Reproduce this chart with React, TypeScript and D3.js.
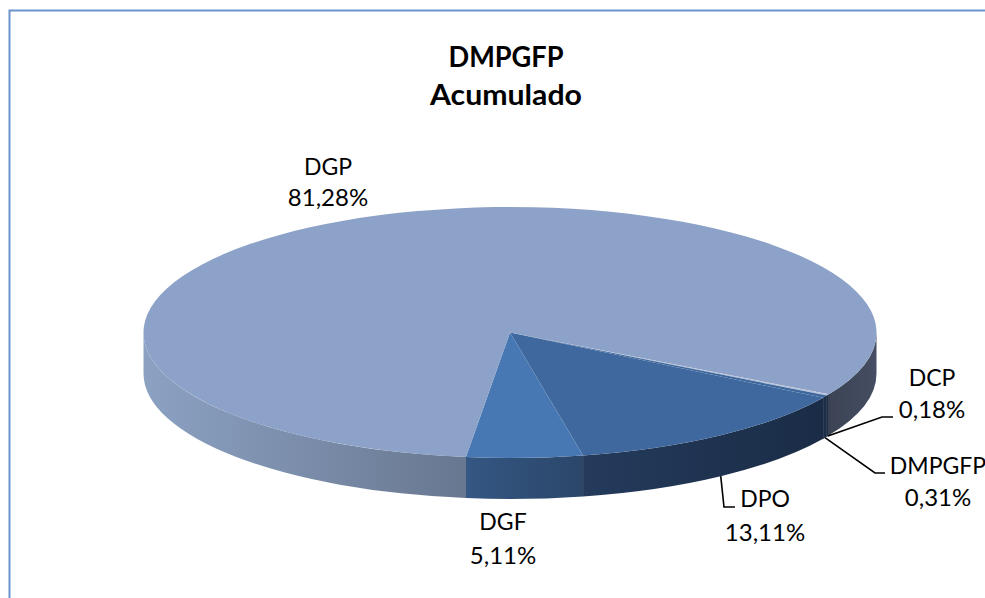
import React from 'react';
import * as d3 from 'd3';

const categories = ['DPO', 'DGF', 'DGP', 'DCP', 'DMPGFP'];
const values = [13.11, 5.11, 81.28, 0.18, 0.31];
const valueLabels = ['13,11%', '5,11%', '81,28%', '0,18%', '0,31%'];
const titleLines = ['DMPGFP', 'Acumulado'];
const titleWidths = [115, 152];

const topColors = ['#3f699e', '#4878b3', '#8da2c8', '#b8c2d8', '#3f699e'];
// left/right colours of the side wall for each slice
const wallColors = [
  ['#243b5c', '#1a2c46'],
  ['#345783', '#2b4669'],
  ['#8ca2c3', '#687790'],
  ['#1c2e48', '#2b3346'],
  ['#1a2c46', '#1c2e48'],
];
const rightWallColors = ['#3b4354', '#454e62'];

// where each label sits: x, first baseline, second baseline
const labelPos = [
  [765, 507, 541],
  [503, 530, 564],
  [328, 175, 206],
  [932, 386, 418],
  [938, 474, 506],
];
// leader elbows after the rim point
const leaders: Record<string, number[][]> = {
  DPO: [[724, 507], [735, 507]],
  DCP: [[882, 417], [893, 417]],
  DMPGFP: [[875, 473], [885, 473]],
};

const cx = 510;
const cy = 332.5;
const rx = 366.5;
const ry = 125.5;
const depth = 41;
const yScale = ry / rx;
const font = 'Lato, Carlito, sans-serif';
const rad = Math.PI / 180;

const slices = d3
  .pie<number>()
  .sort(null)
  .startAngle(121.3 * rad)
  .endAngle((121.3 + 360) * rad)(values);

const topArc = d3.arc<d3.PieArcDatum<number>>().innerRadius(0).outerRadius(rx);

// side wall between two angles, drawn in the unsquashed circle space
function wallPath(a0: number, a1: number) {
  const p = d3.path();
  const d = depth / yScale;
  p.arc(0, 0, rx, a0 - Math.PI / 2, a1 - Math.PI / 2);
  p.arc(0, d, rx, a1 - Math.PI / 2, a0 - Math.PI / 2, true);
  p.closePath();
  return p.toString();
}

// the wall only shows on the front half, angles 90 to 270 degrees
function frontParts(a0: number, a1: number) {
  const parts: [number, number][] = [];
  for (const turn of [0, 2 * Math.PI]) {
    const lo = Math.max(a0, Math.PI / 2 + turn);
    const hi = Math.min(a1, (3 * Math.PI) / 2 + turn);
    if (hi > lo) parts.push([lo, hi]);
  }
  return parts;
}

function rimPoint(a: number): [number, number] {
  return [cx + rx * Math.sin(a), cy - ry * Math.cos(a) + depth];
}

export default function App() {
  return (
    <svg
      width={985}
      height={598}
      style={{ position: 'absolute', left: 0, top: 0, display: 'block', background: '#fff' }}
    >
      <defs>
        {slices.map((s, i) =>
          frontParts(s.startAngle, s.endAngle).map((_, j) => {
            // the big slice wraps round, its second piece is the dark one on the right
            const stops = j === 1 ? rightWallColors : wallColors[i];
            return (
              <linearGradient key={j} id={`wall-${i}-${j}`}>
                <stop offset="0" stopColor={stops[0]} />
                <stop offset="1" stopColor={stops[1]} />
              </linearGradient>
            );
          })
        )}
      </defs>

      <path d="M9.5,598V10.5H985" fill="none" stroke="#6b93cd" strokeWidth={2} />

      <g transform={`translate(${cx},${cy}) scale(1,${yScale})`}>
        {slices.map((s, i) =>
          frontParts(s.startAngle, s.endAngle).map(([lo, hi], j) => (
            <path
              key={`${i}-${j}`}
              d={wallPath(lo, hi)}
              fill={`url(#wall-${i}-${j})`}
              stroke={wallColors[i][1]}
              strokeWidth={i === 3 || i === 4 ? 0.6 : 0}
            />
          ))
        )}
        {slices.map((s, i) => (
          <path key={i} d={topArc(s) ?? ''} fill={topColors[i]} />
        ))}
      </g>

      {slices.map((s, i) => {
        const elbow = leaders[categories[i]];
        if (!elbow) return null;
        const line = d3.line()([rimPoint((s.startAngle + s.endAngle) / 2), ...(elbow as [number, number][])]);
        return <path key={i} d={line ?? ''} fill="none" stroke="#000" strokeWidth={1.6} />;
      })}

      <g fontFamily={font} textAnchor="middle" fill="#000">
        <g fontSize={28} fontWeight={700}>
          {titleLines.map((t, i) => (
            <text key={t} x={506} y={67 + i * 38} textLength={titleWidths[i]} lengthAdjust="spacingAndGlyphs">
              {t}
            </text>
          ))}
        </g>
        {categories.map((c, i) => (
          <React.Fragment key={c}>
            <text x={labelPos[i][0]} y={labelPos[i][1]} fontSize={23}>
              {c}
            </text>
            <text x={labelPos[i][0]} y={labelPos[i][2]} fontSize={24}>
              {valueLabels[i]}
            </text>
          </React.Fragment>
        ))}
      </g>
    </svg>
  );
}
